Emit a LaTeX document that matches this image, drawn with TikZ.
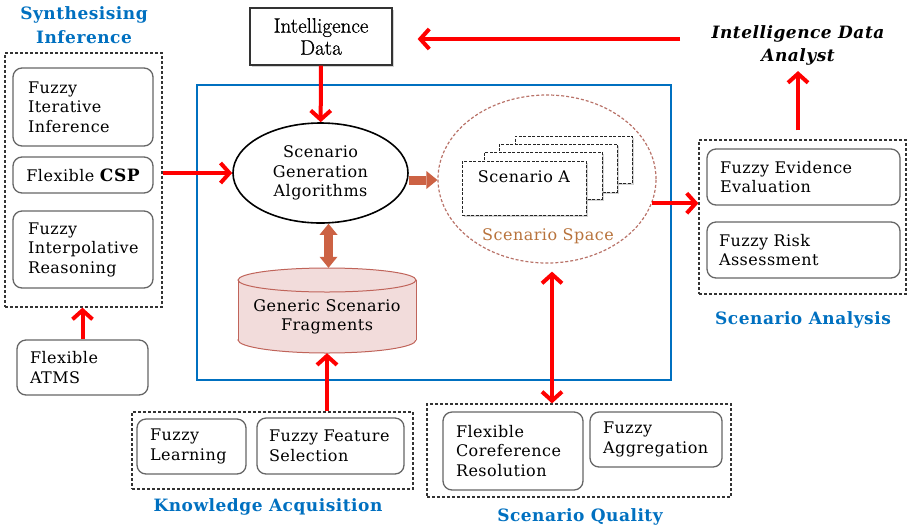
\documentclass[tikz,border=0pt]{standalone}
\usepackage{fontspec}
\setmainfont{DejaVu Serif}[LetterSpace=3]
\newfontfamily\lmfont{Latin Modern Roman}[BoldFont={Latin Modern Roman},BoldFeatures={FakeBold=0.8}]
\usetikzlibrary{arrows.meta,shadows,shapes.geometric}
\definecolor{tblue}{RGB}{0,112,192}
\definecolor{brn}{RGB}{204,98,68}
\definecolor{cylfill}{RGB}{242,220,219}
\definecolor{cyldraw}{RGB}{192,100,90}
\definecolor{spc}{RGB}{185,115,105}
\definecolor{spt}{RGB}{184,115,60}
\newcommand\bx{\fontsize{16}{19.5}\selectfont}
\newcommand\ttl{\fontsize{17}{23.5}\selectfont\bfseries}
\begin{document}
\begin{tikzpicture}[x=1pt,y=-1pt,
 rbox/.style={draw=black!60, rounded corners=9pt, line width=1.3pt, align=left, inner ysep=0pt, font=\bx},
 dbox/.style={draw=black!80, dash pattern=on 3pt off 2pt, line width=1.2pt, inner sep=0pt},
 ttlnode/.style={text=tblue, font=\ttl, align=center},
 rarrow/.style={draw=red, line width=4pt, -{Straight Barb[length=9pt,width=20pt]}},
 rdarrow/.style={draw=red, line width=4pt, {Straight Barb[length=9pt,width=20pt]}-{Straight Barb[length=9pt,width=20pt]}},
 barrow/.style={draw=brn, line width=9pt, -{Triangle[length=11pt,width=18pt,line width=0pt]}},
 bdarrow/.style={draw=brn, line width=9pt, {Triangle[length=11pt,width=18pt,line width=0pt]}-{Triangle[length=11pt,width=18pt,line width=0pt]}},
 sbox/.style={draw=black!85, dash pattern=on 3pt off 1.5pt, line width=1pt, fill=white, drop shadow={opacity=0.35,shadow xshift=2pt,shadow yshift=-2pt}, inner sep=0pt},
]
\useasboundingbox (0,0) rectangle (909,531);

% core blue frame
\node[draw=tblue, line width=2pt, minimum width=474pt, minimum height=295pt, inner sep=0pt] (core) at (434,232.5) {};

% titles
\node[ttlnode] (tsyn) at (84,25) {Synthesising\\Inference};
\node[ttlnode] (tka) at (268,507) {Knowledge Acquisition};
\node[ttlnode] (tsq) at (580,517) {Scenario Quality};
\node[ttlnode] (tsa) at (803,320) {Scenario Analysis};

% dashed group boxes
\node[dbox, minimum width=157pt, minimum height=254pt] (synth) at (83.5,180) {};
\node[dbox, minimum width=281pt, minimum height=77pt] (ka) at (272.5,450.5) {};
\node[dbox, minimum width=304pt, minimum height=93pt] (sq) at (579,450.5) {};
\node[dbox, minimum width=207pt, minimum height=154pt] (sa) at (802.5,217) {};

% rounded boxes
\node[rbox, inner xsep=15pt, text width=110pt, minimum height=78pt] (fii) at (83,107) {Fuzzy\\Iterative\\Inference};
\node[rbox, inner xsep=0pt, minimum width=140pt, minimum height=36pt] (fcsp) at (83,175) {Flexible {\fontsize{17}{20}\selectfont\bfseries CSP}};
\node[rbox, inner xsep=15pt, text width=110pt, minimum height=77pt] (fir) at (83,249.5) {Fuzzy\\Interpolative\\Reasoning};
\node[rbox, inner xsep=13pt, text width=105pt, minimum height=55pt] (atms) at (82.5,367.5) {Flexible\\ATMS};
\node[rbox, inner xsep=13pt, text width=167pt, minimum height=56pt] (fee) at (803.5,177) {Fuzzy Evidence\\Evaluation};
\node[rbox, inner xsep=12pt, text width=169pt, minimum height=56pt] (fra) at (803.5,250) {Fuzzy Risk\\Assessment};
\node[rbox, inner xsep=13pt, text width=114pt, minimum height=78pt] (fcr) at (513,451) {Flexible\\Coreference\\Resolution};
\node[rbox, inner xsep=13pt, text width=106pt, minimum height=55pt] (fag) at (656,439.5) {Fuzzy\\Aggregation};
\node[rbox, inner xsep=13pt, text width=83pt, minimum height=55pt] (fl) at (191.5,446.5) {Fuzzy\\Learning};
\node[rbox, inner xsep=12pt, text width=123pt, minimum height=56pt] (ffs) at (330.5,446) {Fuzzy Feature\\Selection};

% intelligence data
\node[draw=black!80, line width=1.2pt, fill=white, drop shadow={opacity=0.35,shadow xshift=2pt,shadow yshift=-2pt}, minimum width=142pt, minimum height=57pt, inner sep=0pt, align=center, font=\lmfont\bfseries\fontsize{21}{22}\selectfont] (idata) at (321,36.5) {Intelligence\\Data};

% analyst
\node[font=\fontsize{17}{23}\selectfont\bfseries\itshape, align=center, inner sep=0pt] (analyst) at (798,45) {Intelligence Data\\Analyst};

% scenario generation algorithms
\node[draw, ellipse, line width=1.6pt, minimum width=175pt, minimum height=100pt, inner sep=0pt, align=center, font=\bx] (sga) at (320.5,173) {Scenario\\Generation\\Algorithms};

% cylinder
\node[inner sep=0pt, minimum width=178pt, minimum height=85pt] (cyl) at (327,310.5) {};
\fill[cylfill, draw=cyldraw, line width=1pt] (327,340) ellipse (89pt and 13pt);
\fill[cylfill] (238,280) rectangle (416,340);
\draw[cyldraw, line width=1pt] (238,280) -- (238,340) (416,280) -- (416,340);
\fill[cylfill, draw=cyldraw, line width=1pt] (327,280) ellipse (89pt and 12pt);
\node[font=\bx, align=center] (cylt) at (327,317) {Generic Scenario\\Fragments};

% scenario space
\node[draw=spc, dash pattern=on 3pt off 2pt, line width=1.2pt, ellipse, minimum width=218pt, minimum height=168pt, inner sep=0pt] (space) at (547,179) {};
\node[sbox, minimum width=117pt, minimum height=47pt] (sc4) at (573.5,159.5) {};
\node[sbox, minimum width=118pt, minimum height=48pt] (sc3) at (558,168) {};
\node[sbox, minimum width=118pt, minimum height=47pt] (sc2) at (543,175.5) {};
\node[sbox, minimum width=124pt, minimum height=54pt] (scA) at (524,188) {};
\node[font=\bx] (scAt) at (524,177) {Scenario A};
\node[font=\bx, text=spt] (spt) at (548,236) {Scenario Space};

% arrows
\coordinate (anaL) at (680,39);
\draw[rarrow] (anaL) -- ([xshift=25pt]idata.east |- anaL);
\draw[rarrow] (idata) -- (sga);
\draw[rarrow] (synth.east |- sga.west) -- (sga.west);
\draw[rarrow] (atms.north) -- (atms.north |- synth.south);
\draw[rarrow] (cyl.south |- ka.north) -- (cyl.south);
\draw[barrow] ([yshift=-7pt]sga.east) -- ([yshift=-7pt]sga.east -| space.west);
\draw[bdarrow] ([xshift=8pt]sga.south) -- ([xshift=8pt]sga.south |- cyl.north);
\draw[rarrow] (space.-13) -- (space.-13 -| sa.west);
\draw[rarrow] ([yshift=9pt]analyst.south |- sa.north) -- ([yshift=-6pt]analyst.south);
\draw[rdarrow] ([xshift=5pt,yshift=-8pt]space.south) -- ([xshift=5pt]space.south |- sq.north);
\end{tikzpicture}
\end{document}
